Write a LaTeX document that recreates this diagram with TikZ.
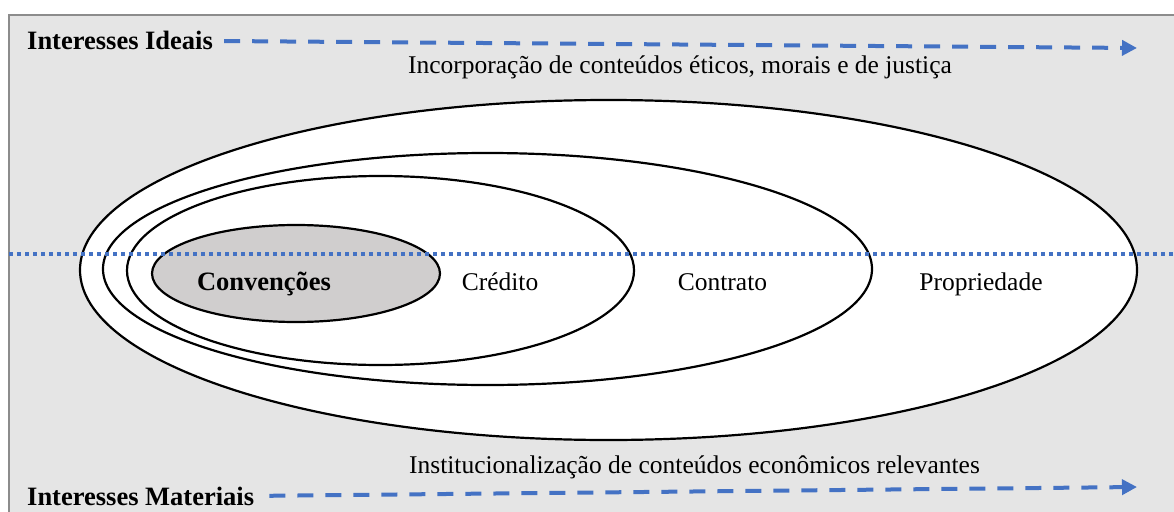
\documentclass[tikz,border=0pt]{standalone}
\usepackage{fontspec}
\setmainfont{Liberation Serif}
\usetikzlibrary{arrows.meta}
\definecolor{bgray}{HTML}{E5E5E5}
\definecolor{fgray}{HTML}{8C8C8C}
\definecolor{oblue}{HTML}{4472C4}
\definecolor{cgray}{HTML}{D0CECE}
\tikzset{
  ring/.style={draw=black, line width=2.2pt, fill=white},
  core/.style={draw=black, line width=2.2pt, fill=cgray},
  lbl/.style={inner sep=0pt, anchor=base, font=\fontsize{25.5}{30}\selectfont},
  blbl/.style={inner sep=0pt, anchor=base, font=\fontsize{26.5}{31}\selectfont\bfseries},
  side/.style={inner sep=0pt, anchor=base west, font=\fontsize{26.5}{31}\selectfont\bfseries},
  flow/.style={draw=oblue, line width=4pt, dash pattern=on 16pt off 12pt, -{Triangle[length=15pt,width=15pt]}},
  guide/.style={draw=oblue, line width=3.5pt, dash pattern=on 4pt off 4pt}
}
\begin{document}
\begin{tikzpicture}[x=1pt,y=-1pt]
\useasboundingbox (0,0) rectangle (1174,511);
\clip (0,0) rectangle (1174,511);
% frame
\draw[fill=bgray, draw=fgray, line width=2pt] (9,15) rectangle (1200,540);
% ellipses
\draw[ring] (608.5,270) ellipse [x radius=528.5pt, y radius=170pt];
\draw[ring] (487.5,269) ellipse [x radius=384.5pt, y radius=116pt];
\draw[ring] (380.5,270.5) ellipse [x radius=253.5pt, y radius=94.5pt];
\draw[core] (296,273.5) ellipse [x radius=144pt, y radius=48.5pt];
% dotted guide
\coordinate (gl) at (9,254);
\coordinate (gr) at (1174,254);
\draw[guide] (gl) -- (gr);
% labels
\node[blbl] (conv) at (264,290) {Convenções};
\node[lbl] (cred) at (500,290) {Crédito};
\node[lbl] (contr) at (722.5,290) {Contrato};
\node[lbl] (prop) at (981,290) {Propriedade};
\node[lbl] (inc) at (680,74) {Incorporação de conteúdos éticos, morais e de justiça};
\node[lbl] (inst) at (694.5,473) {Institucionalização de conteúdos econômicos relevantes};
% sides
\node[side] (ideais) at (27,50) {Interesses Ideais};
\node[side] (mat) at (27,505) {Interesses Materiais};
\coordinate (te) at (1137,48);
\coordinate (be) at (1137,487);
\draw[flow, shorten <=11pt] (ideais.east) -- (te);
\draw[flow, shorten <=15pt] (mat.east) -- (be);
\end{tikzpicture}
\end{document}
